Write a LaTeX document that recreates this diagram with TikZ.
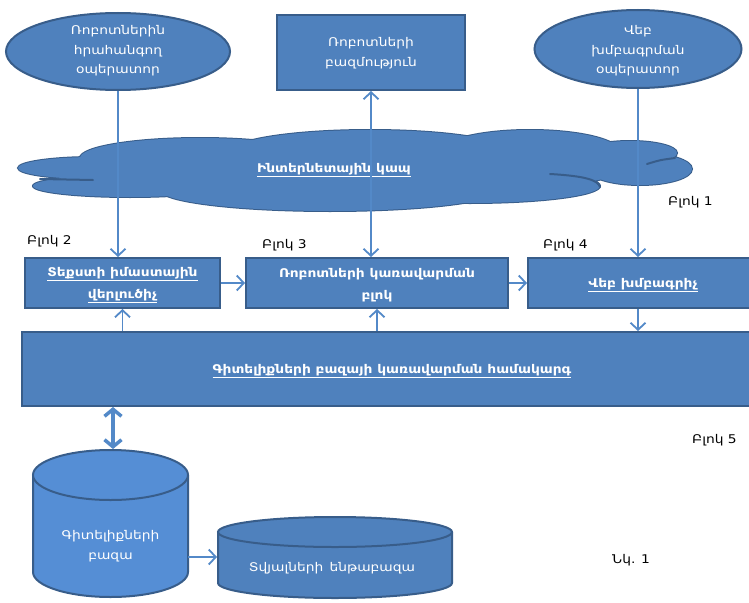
\documentclass[tikz,border=0pt]{standalone}
\usepackage{fontspec}
\setmainfont{DejaVu Sans}[FakeStretch=1.15]
\usetikzlibrary{shapes.geometric,arrows.meta}
\definecolor{fillblue}{HTML}{4F81BD}
\definecolor{edgeblue}{HTML}{385D8A}
\definecolor{lineblue}{HTML}{5389C8}
\definecolor{cylblue}{HTML}{558ED5}
\tikzset{
  wtext/.style={text=white, font=\fontsize{12}{19.5}\selectfont, align=center, inner sep=0pt},
  btext/.style={text=white, font=\fontsize{12}{22}\selectfont\bfseries, align=center, inner sep=0pt},
  blabel/.style={text=black, font=\fontsize{12}{14}\selectfont, inner sep=0pt, anchor=west},
  bluebox/.style={rectangle, fill=fillblue, draw=edgeblue, line width=2pt, inner sep=0pt},
  blueell/.style={ellipse, fill=fillblue, draw=edgeblue, line width=2pt, inner sep=0pt},
  conn/.style={draw=lineblue, line width=1.8pt, -{Straight Barb[length=7pt,width=15pt,line width=1.8pt]}},
  conn2/.style={draw=lineblue, line width=1.8pt, {Straight Barb[length=7pt,width=15pt,line width=1.8pt]}-{Straight Barb[length=7pt,width=15pt,line width=1.8pt]}},
  thick2/.style={draw=lineblue, line width=4pt, {Straight Barb[length=7pt,width=17pt,line width=3.5pt]}-{Straight Barb[length=7pt,width=17pt,line width=3.5pt]}},
  cloudedge/.style={draw=edgeblue, line width=2pt},
}
\begin{document}
\begin{tikzpicture}[x=1pt,y=-1pt]
\path[use as bounding box] (0,0) rectangle (749,602);
\clip (0,0) rectangle (749,602);
\fill[white] (0,0) rectangle (749,602);

% cloud
\def\cloudshape{%
  (95,168) ellipse [x radius=77, y radius=11]
  (130,186) ellipse [x radius=97, y radius=11]
  (200,158) ellipse [x radius=120, y radius=20]
  (370,152) ellipse [x radius=140, y radius=22]
  (530,152) ellipse [x radius=90, y radius=22]
  (630,153) ellipse [x radius=47, y radius=12]
  (640,169) ellipse [x radius=52, y radius=16]
  (470,186) ellipse [x radius=130, y radius=17]
  (330,190) ellipse [x radius=170, y radius=21]
  (360,170) ellipse [x radius=260, y radius=25]}
\draw[cloudedge] \cloudshape;
\fill[fillblue] \cloudshape;
\draw[cloudedge, line cap=round] (40,179) -- (93,180);
\draw[cloudedge, line cap=round] (647,164) .. controls (660,160) .. (675,158);
\draw[cloudedge, line cap=round] (550,174) .. controls (585,176) and (598,180) .. (600,187);
\node[btext] (net) at (334,170) {\underline{Ինտերնետային կապ}};

% top shapes
\node[blueell, minimum width=224pt, minimum height=77pt] (op1) at (118,51.5) {};
\node[wtext] (op1t) at (118,51) {Ռոբոտներին\\հրահանգող\\օպերատոր};
\node[bluebox, minimum width=188pt, minimum height=75pt] (rb) at (371,52.5) {};
\node[wtext] (rbt) at (371,53) {Ռոբոտների\\բազմություն};
\node[blueell, minimum width=207pt, minimum height=78pt] (op3) at (638,49) {};
\node[wtext] (op3t) at (638,51) {Վեբ\\խմբագրման\\օպերատոր};

% blocks
\node[bluebox, minimum width=195pt, minimum height=50pt] (b2) at (122.5,283) {};
\node[btext] (b2t) at (122.5,285) {\underline{Տեքստի իմաստային}\\\underline{վերլուծիչ}};
\node[bluebox, minimum width=262pt, minimum height=50pt] (b3) at (377,283) {};
\node[btext] (b3t) at (377,285) {Ռոբոտների կառավարման\\բլոկ};
\node[bluebox, minimum width=230pt, minimum height=50pt] (b4) at (643,283) {};
\node[btext] (b4t) at (643,285) {\underline{Վեբ խմբագրիչ}};
\node[bluebox, minimum width=740pt, minimum height=74pt] (kbms) at (392,369) {};
\node[btext] (kbmst) at (392,371) {\underline{Գիտելիքների բազայի կառավարման համակարգ}};

% labels
\node[blabel] (l1) at (668,202) {Բլոկ 1};
\node[blabel] (l2) at (27,241) {Բլոկ 2};
\node[blabel] (l3) at (262,245) {Բլոկ 3};
\node[blabel] (l4) at (543,245) {Բլոկ 4};
\node[blabel] (l5) at (692,440) {Բլոկ 5};
\node[blabel] (fig) at (612,560) {Նկ. 1};

% cylinders
\fill[cylblue] (33,475) rectangle (188,572);
\fill[cylblue] (110.5,572) ellipse [x radius=77.5, y radius=25];
\draw[edgeblue, line width=2pt] (33,475) -- (33,572) arc[start angle=180, end angle=0, x radius=77.5, y radius=25] -- (188,475);
\filldraw[fill=cylblue, draw=edgeblue, line width=2pt] (110.5,475) ellipse [x radius=77.5, y radius=25];
\node[wtext] (kbt) at (110.5,546) {Գիտելիքների\\բազա};
\coordinate (kbtop) at (113,449);
\coordinate (kbright) at (188,557);

\fill[fillblue] (218,532) rectangle (452,583);
\fill[fillblue] (335,583) ellipse [x radius=117, y radius=15];
\draw[edgeblue, line width=2pt] (218,532) -- (218,583) arc[start angle=180, end angle=0, x radius=117, y radius=15] -- (452,532);
\filldraw[fill=fillblue, draw=edgeblue, line width=2pt] (335,532) ellipse [x radius=117, y radius=15];
\node[wtext] (dbt) at (332,568) {Տվյալների\, ենթաբազա};
\coordinate (dbleft) at (217,557);

% connectors
\draw[conn] (op1.south) -- (op1.south |- b2.north);
\draw[conn2] (rb.south) -- (rb.south |- b3.north);
\draw[conn] (op3.south) -- (op3.south |- b4.north);
\draw[conn] (b2.east) -- (b3.west);
\draw[conn] (b3.east) -- (b4.west);
\draw[conn] (kbms.north -| b2.south) -- (b2.south);
\draw[conn] (kbms.north -| b3.south) -- (b3.south);
\draw[conn] (b4.south -| op3.south) -- (kbms.north -| op3.south);
\draw[thick2] (kbms.south -| kbtop) -- (kbtop);
\draw[conn] (kbright) -- (dbleft);
\end{tikzpicture}
\end{document}
